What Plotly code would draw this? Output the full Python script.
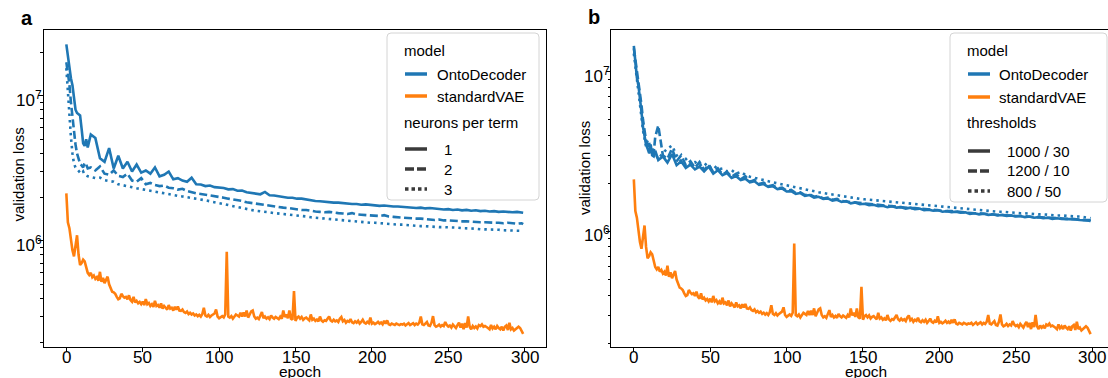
import math
import plotly.graph_objects as go

# ---------------- data ----------------
epochs_vae = list(range(0, 300))
epochs_od = list(range(0, 15)) + list(range(16, 299, 3)) + [299]

# standardVAE validation loss (thousands)
vae_k = [
    2120, 1340, 1220, 1000, 860, 780, 900, 1090, 800, 680,
    700, 740, 720, 640, 600, 580, 600, 560, 575, 545,
    560, 530, 610, 520, 555, 510, 540, 565, 500, 470,
    445, 440, 430, 410, 395, 400, 430, 415, 405, 410,
    395, 420, 390, 380, 410, 375, 385, 370, 378, 365,
    380, 360, 395, 365, 372, 355, 365, 350, 385, 355,
    360, 345, 370, 340, 355, 345, 335, 360, 340, 345,
    330, 350, 335, 352, 330, 328, 335, 322, 318, 325,
    312, 318, 310, 315, 305, 310, 302, 308, 300, 312,
    345, 305, 300, 308, 298, 305, 310, 315, 335, 300,
    292, 298, 302, 296, 310, 840, 300, 295, 302, 290,
    298, 310, 305, 300, 318, 300, 320, 300, 330, 295,
    310, 325, 330, 300, 290, 295, 288, 310, 322, 292,
    300, 290, 296, 288, 305, 295, 290, 298, 292, 288,
    300, 290, 330, 298, 310, 292, 330, 290, 285, 450,
    280, 295, 300, 290, 298, 285, 292, 295, 288, 282,
    310, 285, 290, 280, 286, 278, 300, 282, 276, 283,
    280, 290, 300, 282, 277, 285, 278, 282, 275, 290,
    298, 278, 284, 272, 280, 276, 288, 274, 270, 278,
    272, 280, 268, 275, 285, 272, 268, 276, 270, 295,
    268, 272, 266, 270, 276, 268, 273, 265, 280, 268,
    282, 265, 262, 268, 264, 262, 268, 265, 262, 266,
    264, 268, 260, 265, 270, 262, 266, 270, 262, 268,
    264, 272, 300, 265, 262, 270, 275, 260, 258, 272,
    302, 262, 255, 258, 264, 256, 262, 258, 275, 262,
    256, 260, 252, 264, 258, 250, 262, 272, 252, 268,
    245, 270, 252, 300, 255, 245, 258, 250, 256, 248,
    262, 258, 265, 255, 258, 252, 250, 245, 262, 248,
    255, 245, 258, 250, 245, 255, 240, 255, 260, 242,
    272, 245, 250, 240, 246, 252, 255, 250, 240, 228,
]

# OntoDecoder, panel a (millions): neurons per term 1 / 2 / 3
od_a1 = [
    22.6, 18.5, 15.0, 13.2, 11.8, 9.6, 8.0, 7.6, 7.5, 7.3, 5.9, 4.7, 4.5, 5.0, 4.4,
    5.4, 5.1, 3.7, 3.5, 4.35, 3.15, 3.85, 3.15, 3.5, 3.0,
    3.35, 2.95, 3.05, 2.9, 3.2, 2.78, 2.85, 3.0, 2.65, 2.7,
    2.6, 2.55, 2.72, 2.45, 2.44, 2.38, 2.40, 2.34, 2.32, 2.31,
    2.26, 2.27, 2.21, 2.22, 2.16, 2.14, 2.12, 2.09, 2.17, 2.06,
    2.05, 2.02, 2.01, 1.98, 1.98, 1.95, 1.95, 1.92, 1.91, 1.88,
    1.87, 1.85, 1.85, 1.83, 1.83, 1.81, 1.81, 1.79, 1.79, 1.77,
    1.78, 1.76, 1.76, 1.74, 1.75, 1.73, 1.72, 1.72, 1.71, 1.69,
    1.70, 1.68, 1.69, 1.67, 1.68, 1.66, 1.66, 1.64, 1.65, 1.63,
    1.64, 1.62, 1.63, 1.61, 1.62, 1.60, 1.61, 1.59, 1.60, 1.58,
    1.59, 1.58, 1.57, 1.58, 1.56, 1.56,
]
od_a2 = [
    17.0, 14.6, 12.0, 9.0, 7.0, 5.6, 4.6, 4.0, 3.6, 3.4, 3.3, 3.2, 3.45, 3.35, 3.15,
    3.2, 3.05, 3.25, 2.9, 2.85, 3.05, 2.8, 2.75, 2.9, 2.6,
    2.55, 2.7, 2.45, 2.5, 2.42, 2.38, 2.4, 2.32, 2.3, 2.25,
    2.28, 2.2, 2.15, 2.12, 2.1, 2.08, 2.05, 2.03, 2.01, 1.98,
    1.95, 1.93, 1.9, 1.88, 1.84, 1.82, 1.79, 1.78, 1.76, 1.75,
    1.72, 1.71, 1.69, 1.68, 1.66, 1.65, 1.63, 1.63, 1.60, 1.59,
    1.58, 1.57, 1.58, 1.56, 1.55, 1.54, 1.53, 1.55, 1.52, 1.51,
    1.50, 1.50, 1.49, 1.48, 1.50, 1.47, 1.46, 1.45, 1.45, 1.44,
    1.43, 1.42, 1.42, 1.41, 1.40, 1.39, 1.40, 1.38, 1.38, 1.37,
    1.37, 1.36, 1.36, 1.35, 1.35, 1.34, 1.34, 1.33, 1.33, 1.33,
    1.32, 1.33, 1.32, 1.31, 1.32, 1.30,
]
od_a3 = [
    15.5, 10.5, 7.5, 5.2, 4.0, 3.4, 3.2, 3.1, 3.0, 2.95, 2.9, 3.0, 2.85, 2.8, 2.78,
    2.75, 2.7, 2.72, 2.62, 2.58, 2.55, 2.45, 2.42, 2.38, 2.34,
    2.3, 2.27, 2.24, 2.2, 2.16, 2.13, 2.1, 2.08, 2.06, 2.04,
    2.02, 2.0, 1.98, 1.95, 1.93, 1.9, 1.87, 1.85, 1.82, 1.79,
    1.76, 1.73, 1.71, 1.68, 1.65, 1.63, 1.61, 1.60, 1.58, 1.57,
    1.55, 1.54, 1.52, 1.51, 1.50, 1.49, 1.48, 1.47, 1.45, 1.44,
    1.43, 1.42, 1.41, 1.40, 1.39, 1.38, 1.37, 1.37, 1.36, 1.35,
    1.34, 1.33, 1.33, 1.32, 1.31, 1.30, 1.30, 1.29, 1.29, 1.28,
    1.27, 1.27, 1.26, 1.26, 1.25, 1.25, 1.24, 1.24, 1.24, 1.23,
    1.23, 1.22, 1.22, 1.21, 1.21, 1.20, 1.20, 1.19, 1.19, 1.19,
    1.18, 1.18, 1.17, 1.17, 1.17, 1.16,
]

# OntoDecoder, panel b (millions): thresholds 1000/30, 1200/10, 800/50
od_b1 = [
    14.5, 11.5, 9.2, 8.2, 7.0, 5.6, 4.5, 3.9, 3.5, 3.3, 3.1, 3.5, 3.0, 2.95, 3.2,
    2.8, 2.95, 2.7, 3.05, 2.6, 2.75, 2.5, 2.62, 2.45, 2.55,
    2.38, 2.55, 2.3, 2.42, 2.25, 2.32, 2.16, 2.22, 2.1, 2.14,
    2.03, 2.06, 1.96, 1.98, 1.9, 1.92, 1.84, 1.86, 1.78, 1.79,
    1.72, 1.74, 1.67, 1.69, 1.63, 1.65, 1.60, 1.61, 1.56, 1.58,
    1.53, 1.55, 1.50, 1.52, 1.48, 1.49, 1.46, 1.47, 1.44, 1.45,
    1.42, 1.44, 1.41, 1.42, 1.39, 1.41, 1.38, 1.39, 1.36, 1.37,
    1.35, 1.36, 1.33, 1.34, 1.32, 1.33, 1.31, 1.32, 1.29, 1.30,
    1.28, 1.29, 1.27, 1.28, 1.26, 1.27, 1.25, 1.26, 1.24, 1.25,
    1.23, 1.24, 1.22, 1.23, 1.21, 1.22, 1.20, 1.21, 1.20, 1.20,
    1.19, 1.19, 1.18, 1.18, 1.17, 1.16,
]
od_b2 = [
    14.0, 12.0, 9.8, 8.5, 7.4, 6.2, 5.0, 4.2, 3.7, 3.4, 3.6, 3.2, 3.3, 3.1, 3.9,
    4.6, 3.0, 2.85, 3.3, 2.75, 3.0, 2.6, 2.75, 2.5, 2.72,
    2.42, 2.62, 2.35, 2.48, 2.28, 2.36, 2.2, 2.3, 2.12, 2.22,
    2.05, 2.1, 1.98, 2.02, 1.92, 1.95, 1.86, 1.88, 1.8, 1.82,
    1.74, 1.76, 1.69, 1.71, 1.65, 1.67, 1.61, 1.63, 1.58, 1.60,
    1.55, 1.54, 1.52, 1.51, 1.50, 1.49, 1.48, 1.47, 1.46, 1.45,
    1.44, 1.43, 1.43, 1.42, 1.41, 1.40, 1.40, 1.39, 1.38, 1.37,
    1.36, 1.36, 1.35, 1.34, 1.34, 1.33, 1.32, 1.32, 1.31, 1.30,
    1.30, 1.29, 1.29, 1.28, 1.27, 1.27, 1.26, 1.26, 1.25, 1.25,
    1.24, 1.24, 1.23, 1.23, 1.22, 1.22, 1.22, 1.21, 1.21, 1.20,
    1.20, 1.19, 1.19, 1.18, 1.18, 1.17,
]
od_b3 = [
    13.0, 11.0, 9.0, 7.6, 6.5, 5.2, 4.3, 3.8, 3.4, 3.7, 3.2, 3.0, 3.35, 2.95, 3.05,
    2.85, 3.1, 3.3, 3.45, 3.0, 2.75, 2.85, 2.62, 2.72, 2.58,
    2.7, 2.5, 2.6, 2.45, 2.48, 2.38, 2.42, 2.3, 2.36, 2.26,
    2.2, 2.16, 2.13, 2.09, 2.06, 2.03, 2.0, 1.97, 1.95, 1.92,
    1.9, 1.87, 1.84, 1.81, 1.78, 1.76, 1.74, 1.72, 1.7, 1.68,
    1.66, 1.64, 1.63, 1.61, 1.60, 1.59, 1.58, 1.57, 1.56, 1.55,
    1.54, 1.53, 1.52, 1.52, 1.51, 1.50, 1.49, 1.48, 1.47, 1.46,
    1.45, 1.44, 1.43, 1.42, 1.41, 1.40, 1.39, 1.38, 1.37, 1.36,
    1.36, 1.35, 1.34, 1.34, 1.33, 1.33, 1.32, 1.31, 1.31, 1.30,
    1.30, 1.29, 1.29, 1.28, 1.28, 1.27, 1.27, 1.26, 1.26, 1.25,
    1.25, 1.24, 1.24, 1.23, 1.22, 1.21,
]

model_labels = ["OntoDecoder", "standardVAE"]
style_title_a = "neurons per term"
style_labels_a = ["1", "2", "3"]
style_title_b = "thresholds"
style_labels_b = ["1000 / 30", "1200 / 10", "800 / 50"]
x_ticks = [0, 50, 100, 150, 200, 250, 300]
y_ticks = [1e6, 1e7]
y_ticktext = ["10<sup>6</sup>", "10<sup>7</sup>"]

# ---------------- styling ----------------
W, H = 1108, 378
BLUE = "#1f77b4"
ORANGE = "#ff7f0e"
FONT = "Liberation Sans, Arial, sans-serif"
DASHES = ["solid", "8px,3.5px", "2.5px,4px"]
LW = 2.6
TICK_FONT = 17


def px(x):
    return x / W


def py(y):
    return 1 - y / H


fig = go.Figure()

vae_vals = [v * 1e3 for v in vae_k]
for ax, series in (("", [od_a1, od_a2, od_a3]), ("2", [od_b1, od_b2, od_b3])):
    for s, dash in zip(series, DASHES):
        fig.add_trace(go.Scatter(
            x=epochs_od, y=[v * 1e6 for v in s], mode="lines",
            line=dict(color=BLUE, width=LW, dash=dash),
            xaxis="x" + ax, yaxis="y" + ax, showlegend=False, hoverinfo="skip"))
    fig.add_trace(go.Scatter(
        x=epochs_vae, y=vae_vals, mode="lines",
        line=dict(color=ORANGE, width=LW),
        xaxis="x" + ax, yaxis="y" + ax, showlegend=False, hoverinfo="skip"))

minor_vals = ([k * 1e5 for k in range(2, 10)] + [k * 1e6 for k in range(2, 10)]
              + [k * 1e7 for k in range(2, 4)])

ydom = [py(347), py(30)]
common_x = dict(
    tickvals=x_ticks, showticklabels=False,
    ticks="outside", ticklen=4, tickwidth=1, tickcolor="black",
    showline=True, linecolor="black", linewidth=1, mirror=True,
    showgrid=False, zeroline=False,
)
common_y = dict(
    type="log", tickvals=y_ticks, showticklabels=False,
    ticks="outside", ticklen=4.5, tickwidth=1, tickcolor="black",
    minor=dict(tickvals=minor_vals, ticks="outside", ticklen=2.5, tickwidth=0.8,
               tickcolor="black", showgrid=False),
    showline=True, linecolor="black", linewidth=1,
    showgrid=False, zeroline=False,
    domain=ydom,
)

fig.update_layout(
    width=W, height=H,
    margin=dict(l=0, r=0, t=0, b=0),
    paper_bgcolor="white", plot_bgcolor="white",
    showlegend=False,
    font=dict(family=FONT, color="black"),
    xaxis=dict(common_x, domain=[px(43.5), px(546)], range=[-14.95, 313.95], anchor="y"),
    yaxis=dict(common_y, range=[5.267, 7.453], mirror=True, anchor="x"),
    xaxis2=dict(common_x, domain=[px(611), 1.0], range=[-14.95, 310.4], anchor="y2"),
    yaxis2=dict(common_y, range=[5.277, 7.261], mirror=False, anchor="x2"),
)

annotations = []
shapes = []


def text(x, y, s, size=15, xanchor="left", angle=0, bold=False):
    annotations.append(dict(
        x=px(x), y=py(y), xref="paper", yref="paper", text=("<b>%s</b>" % s) if bold else s,
        showarrow=False, xanchor=xanchor, yanchor="middle", textangle=angle,
        font=dict(family=FONT, size=size, color="black")))


# tick labels placed on the axes' own coordinates
for xr, yr, spine_x in (("x", "y", 43.5), ("x2", "y2", 611)):
    for t in x_ticks:
        annotations.append(dict(
            x=t, y=py(357), xref=xr, yref="paper", text=str(t), showarrow=False,
            xanchor="center", yanchor="middle",
            font=dict(family=FONT, size=TICK_FONT, color="black")))
    for v, lab in zip(y_ticks, y_ticktext):
        annotations.append(dict(
            x=px(spine_x + 0.5), y=math.log10(v), xref="paper", yref=yr, text=lab,
            showarrow=False, xanchor="right", yanchor="middle", yshift=-3,
            font=dict(family=FONT, size=TICK_FONT, color="black")))

# panel labels and axis titles
text(19, 18, "a", size=20, bold=True)
text(586, 17, "b", size=20, bold=True)
text(17.5, 175, "validation loss", size=15, xanchor="center", angle=-90)
text(584, 168, "validation loss", size=15, xanchor="center", angle=-90)
text(300, 371.5, "epoch", size=15.5, xanchor="center")
text(866, 371.5, "epoch", size=15.5, xanchor="center")


def rounded_box(x0, y0, x1, y1, r=4):
    pts = (f"M {px(x0 + r)},{py(y0)} L {px(x1 - r)},{py(y0)} Q {px(x1)},{py(y0)} {px(x1)},{py(y0 + r)} "
           f"L {px(x1)},{py(y1 - r)} Q {px(x1)},{py(y1)} {px(x1 - r)},{py(y1)} "
           f"L {px(x0 + r)},{py(y1)} Q {px(x0)},{py(y1)} {px(x0)},{py(y1 - r)} "
           f"L {px(x0)},{py(y0 + r)} Q {px(x0)},{py(y0)} {px(x0 + r)},{py(y0)} Z")
    shapes.append(dict(type="path", path=pts, xref="paper", yref="paper",
                       line=dict(color="#d4d4d4", width=1), fillcolor="rgba(255,255,255,0.85)"))


def sample(x0, x1, y, color, dash, width=3.5):
    shapes.append(dict(type="line", xref="paper", yref="paper",
                       x0=px(x0), x1=px(x1), y0=py(y), y1=py(y),
                       line=dict(color=color, width=width, dash=dash)))


def legend(box, left, sx0, sx1, ys, style_title, style_labels, model_tx, style_tx):
    rounded_box(*box)
    text(left, ys[0], "model")
    for lab, col, y in zip(model_labels, [BLUE, ORANGE], ys[1:3]):
        sample(sx0, sx1, y, col, "solid")
        text(model_tx, y, lab)
    text(left, ys[3], style_title)
    for lab, dash, y in zip(style_labels, ["solid", "9px,3px", "3.5px,3px"], ys[4:7]):
        sample(sx0, sx1, y, "#3a3a3a", dash)
        text(style_tx, y, lab)


legend((387, 33, 539, 200), 402, 405, 427, [50, 74, 96, 122, 149, 169, 189],
       style_title_a, style_labels_a, 435, 442)
legend((950, 33, 1107, 202), 965, 968, 990, [50, 74, 97, 123, 151, 171, 191],
       style_title_b, style_labels_b, 997, 1005)

fig.update_layout(annotations=annotations, shapes=shapes)
fig.write_html("out.html")
